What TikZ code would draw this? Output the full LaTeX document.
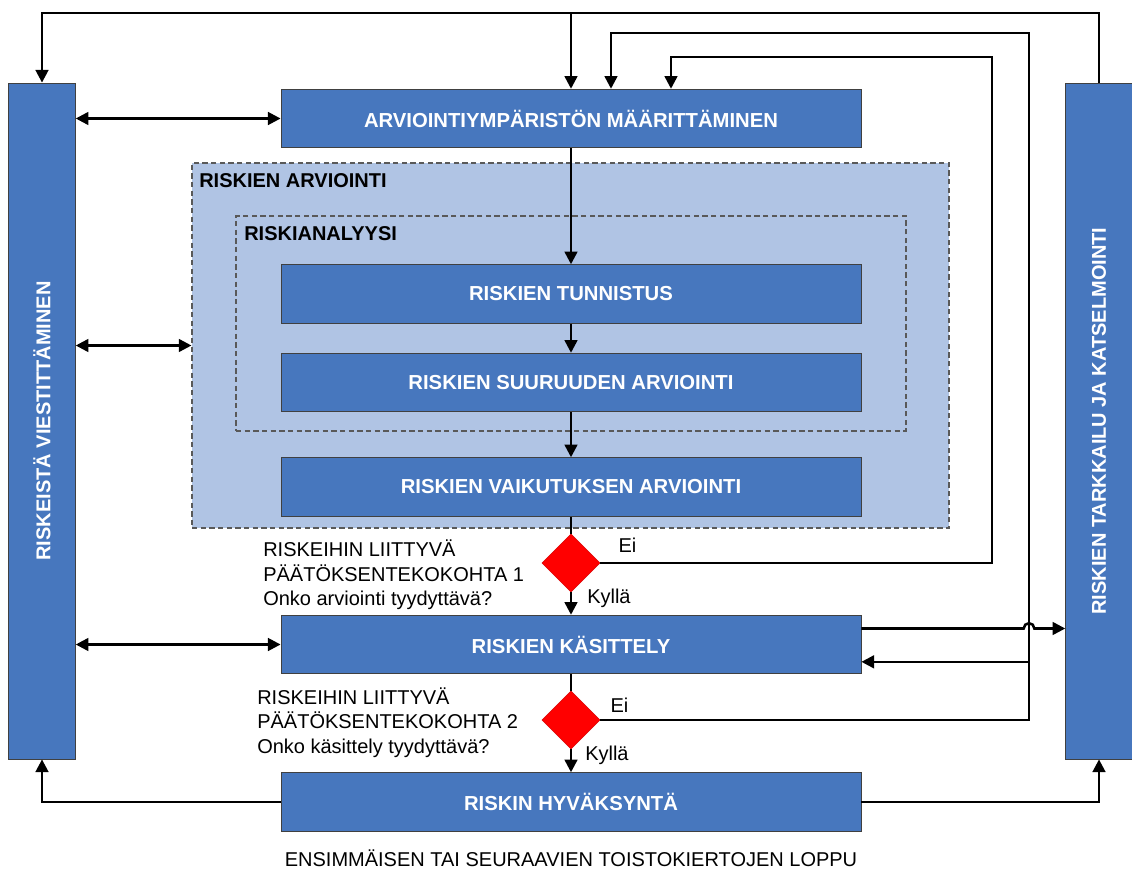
\documentclass[tikz,border=0pt]{standalone}
\usepackage{fontspec}
\setmainfont{Liberation Sans}
\usetikzlibrary{arrows.meta,shapes.geometric}
\definecolor{boxblue}{RGB}{71,119,190}
\definecolor{paleblue}{RGB}{176,196,228}
\definecolor{diared}{RGB}{255,0,0}
\tikzset{
  stage/.style={draw=black!75,line width=0.6pt,fill=boxblue,text=white,
    font=\bfseries\fontsize{15.2}{18}\selectfont,minimum width=435pt,minimum height=44pt,inner sep=0pt},
  side/.style={draw=black!75,line width=0.6pt,fill=boxblue,minimum width=50pt,minimum height=507pt},
  sidetxt/.style={rotate=90,text=white,font=\bfseries\fontsize{15}{18}\selectfont},
  group/.style={draw=black!65,line width=0.8pt,dash pattern=on 4pt off 2.5pt,inner sep=0pt},
  grouplbl/.style={font=\bfseries\fontsize{15}{18}\selectfont,anchor=west,inner sep=0pt},
  decision/.style={diamond,fill=diared,draw=diared!85!black,line width=0.4pt,
    minimum width=43.5pt,minimum height=43.5pt,inner sep=0pt},
  note/.style={font=\fontsize{15}{18.4}\selectfont,align=left,anchor=west,inner sep=0pt},
  lbl/.style={font=\fontsize{15}{18}\selectfont,inner sep=0pt,anchor=base west},
}
\begin{document}
\begin{tikzpicture}[x=0.75pt,y=-0.75pt,>={Triangle[length=9.5pt,width=9.5pt]},line width=1.9pt]
  \useasboundingbox (0,0) rectangle (1132,870);
  % ryhmat
  \node[group,fill=paleblue,minimum width=567.75pt,minimum height=273.75pt] (arvioi) at (570.5,345.5) {};
  \node[group,minimum width=502.5pt,minimum height=161.25pt] (analyysi) at (571,323.5) {};
  \node[grouplbl] (arvlbl) at (198,181) {RISKIEN ARVIOINTI};
  \node[grouplbl] (anlbl) at (243,234) {RISKIANALYYSI};
  % vaiheet
  \path (571,118.5) node[stage] (arv) {ARVIOINTIYMPÄRISTÖN MÄÄRITTÄMINEN}
    ++(0,175.5) node[stage] (tun) {RISKIEN TUNNISTUS}
    ++(0,88.5)  node[stage] (suu) {RISKIEN SUURUUDEN ARVIOINTI}
    ++(0,104.5) node[stage] (vai) {RISKIEN VAIKUTUKSEN ARVIOINTI}
    ++(0,76)    node[decision] (d1) {}
    ++(0,81.5)  node[stage] (kas) {RISKIEN KÄSITTELY}
    ++(0,75.5)  node[decision] (d2) {}
    ++(0,82)    node[stage] (hyv) {RISKIN HYVÄKSYNTÄ}
  ;
  \node[side,label={[sidetxt]center:RISKEISTÄ VIESTITTÄMINEN}] (comm) at (42,421) {};
  \node[side,label={[sidetxt]center:RISKIEN TARKKAILU JA KATSELMOINTI}] (mon) at (1099,421) {};
  \node[note] (q1) at (262,575) {RISKEIHIN LIITTYVÄ\\PÄÄTÖKSENTEKOKOHTA 1\\Onko arviointi tyydyttävä?};
  \node[note] (q2) at (256,722.5) {RISKEIHIN LIITTYVÄ\\PÄÄTÖKSENTEKOKOHTA 2\\Onko käsittely tyydyttävä?};
  \node[font=\fontsize{15}{18}\selectfont] (loppu) at (571,858) {ENSIMMÄISEN TAI SEURAAVIEN TOISTOKIERTOJEN LOPPU};
  % apupisteet
  \coordinate (top1) at (0,13);
  \coordinate (top2) at (0,33);
  \coordinate (top3) at (0,57);
  \coordinate (xr1) at (992,0);
  \coordinate (xr2) at (1029,0);
  \coordinate (kasout) at ([yshift=12pt]kas.east);
  \coordinate (kasin) at ([yshift=-13pt]kas.east);
  \coordinate (jump) at (xr2 |- kasout);
  % yhteydet
  \foreach \a/\b in {arv/tun,tun/suu,suu/vai}{%
    \draw[->] (\a.south) -- (\b.north);
  }%
  \foreach \b in {arv,arvioi,kas}{%
    \draw[<->] (comm.east |- \b) -- (\b.west);
  }%
  \draw (vai.south) -- (d1.north);
  \draw (kas.south) -- (d2.north);
  \draw[->] (d1.south) node[lbl,shift={(15,11)}] {Kyllä} -- (kas.north);
  \draw[->] (d2.south) node[lbl,shift={(13,11)}] {Kyllä} -- (hyv.north);
  \draw[->] (d1.east) node[lbl,shift={(17,-11)}] {Ei} -| (xr1 |- top3) -| ([xshift=75pt]arv.north);
  \draw[->] (d2.east) node[lbl,shift={(9,-8)}] {Ei} -| (xr2 |- top2) -| ([xshift=30pt]arv.north);
  \draw[->] (xr2 |- kasin) -- (kasin);
  \draw[->] (kasout) -- ([xshift=-4pt]jump) arc[start angle=180,end angle=0,radius=4pt] -- (mon.west |- kasout);
  \draw[->] (mon.north) -- (mon.north |- top1) -| (comm.north);
  \draw[->] (arv.north |- top1) -- (arv.north);
  \draw[->] (hyv.west) -| (comm.south);
  \draw[->] (hyv.east) -| (mon.south);
\end{tikzpicture}
\end{document}
